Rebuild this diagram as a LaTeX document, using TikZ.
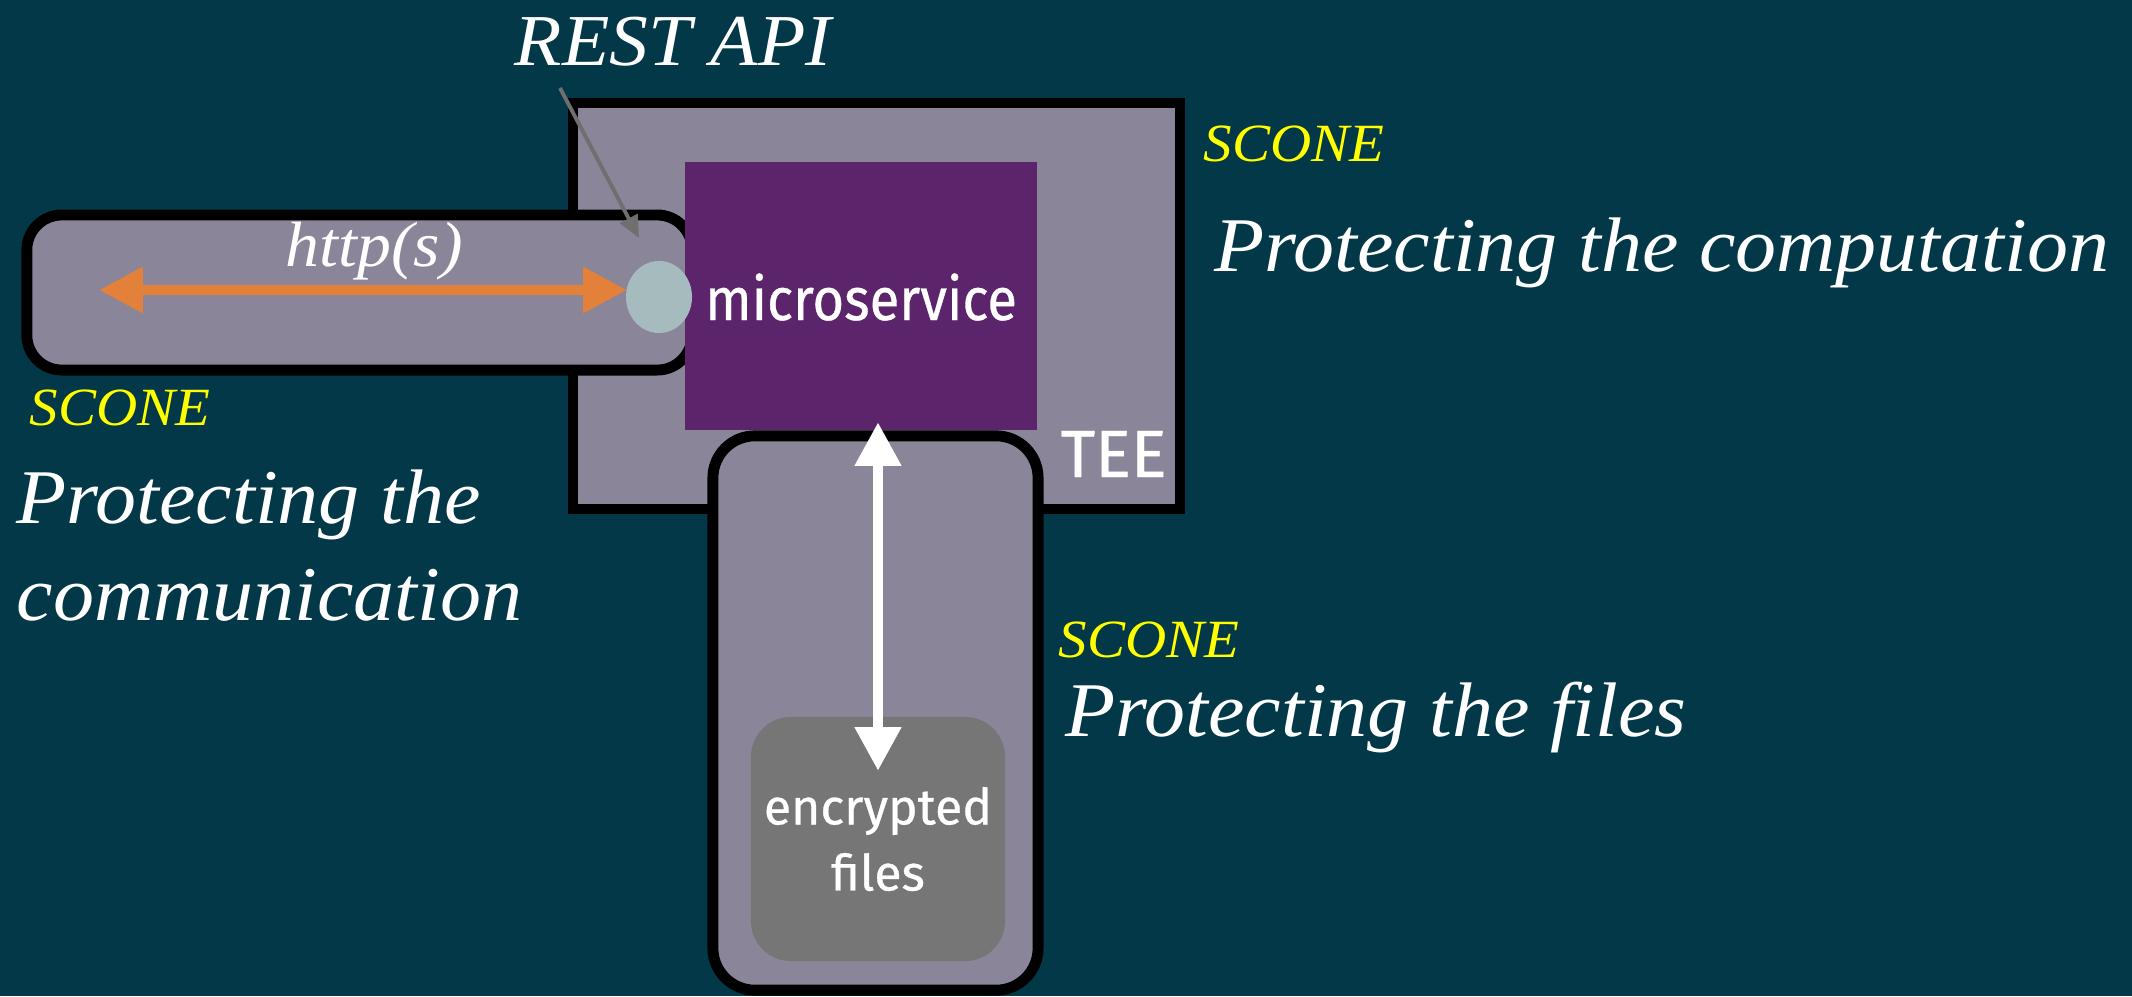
\documentclass[tikz,border=0pt]{standalone}
\usepackage{fontspec}
\setmainfont{Liberation Serif}[FakeStretch=1.06]
\setsansfont{Fira Sans}[FakeBold=0.6]
\usetikzlibrary{arrows.meta,shapes.geometric}
\definecolor{bgc}{HTML}{023848}
\definecolor{boxgray}{HTML}{8A8598}
\definecolor{msviolet}{HTML}{5C256B}
\definecolor{apicol}{HTML}{A6BBBD}
\definecolor{encgray}{HTML}{757675}
\definecolor{arrorange}{HTML}{E3803A}
\definecolor{sconeyellow}{HTML}{FFFF00}
\definecolor{pointergray}{HTML}{6F6F6F}
\tikzset{
  zone/.style={draw=black, fill=boxgray, line width=3.1pt, inner sep=0pt},
  sconelbl/.style={text=sconeyellow, font=\fontsize{15.3pt}{18pt}\selectfont\itshape, anchor=base west, inner sep=0pt},
  protlbl/.style={text=white, font=\fontsize{22pt}{27pt}\selectfont\itshape, anchor=base west, inner sep=0pt},
  sanslbl/.style={text=white, inner sep=0pt},
}
\begin{document}
\begin{tikzpicture}[x=0.01cm,y=-0.01cm]
\fill[bgc] (0,0) rectangle (2132,996);
\useasboundingbox (0,0) rectangle (2132,996);

% TEE box
\node[zone, line width=2.85pt, minimum width=6.07cm, minimum height=4.06cm] (tee) at (876.5,306) {};
% communication box
\node[zone, rounded corners=0.35cm, minimum width=6.65cm, minimum height=1.55cm] (comm) at (359.5,292.5) {};
% microservice
\node[fill=msviolet, inner sep=0pt, minimum width=3.52cm, minimum height=2.68cm] (ms) at (861,296) {};
\node[sanslbl, anchor=base, font=\sffamily\fontsize{17pt}{20pt}\selectfont] (mstext) at (861,320) {\scalebox{0.91}[1]{microservice}};
% REST API endpoint
\node[ellipse, fill=apicol, inner sep=0pt, minimum width=0.66cm, minimum height=0.72cm] (api) at (659,297) {};
% files box
\node[zone, rounded corners=0.42cm, minimum width=3.25cm, minimum height=5.54cm] (files) at (875.5,713) {};
\node[fill=encgray, rounded corners=0.4cm, inner sep=0pt, minimum width=2.54cm, minimum height=2.44cm,
      text=white, align=center, font=\sffamily\fontsize{14.2pt}{18.8pt}\selectfont] (enc) at (878,839) {encrypted\\files};
% TEE label
\node[sanslbl, anchor=base west, font=\sffamily\fontsize{19pt}{22pt}\selectfont] (teelbl) at (1060,477) {TEE};

% arrows
\coordinate (httpL) at (99,290);
\coordinate (httpR) at (627,290);
\draw[arrorange, line width=2.85pt, {Triangle[length=12.5pt,width=12.5pt]}-{Triangle[length=12.5pt,width=12.5pt]}] (httpL) -- (httpR);
\node[text=white, anchor=base west, inner sep=0pt, font=\fontsize{18.2pt}{24pt}\selectfont\itshape] (http) at (285,266) {http(s)};

\coordinate (fa) at (878,422);
\coordinate (fb) at (878,771);
\draw[white, line width=3.1pt, {Triangle[length=12.5pt,width=12.5pt]}-{Triangle[length=12.5pt,width=12.5pt]}] (fa) -- (fb);

\node[text=white, anchor=base west, inner sep=0pt, font=\fontsize{20.8pt}{26pt}\selectfont\itshape] (rest) at (514,65) {REST API};
\coordinate (ps) at (560,88);
\coordinate (pe) at (639,238);
\draw[pointergray, line width=1.1pt, -{Triangle[length=6.3pt,width=5.5pt]}] (ps) -- (pe);

% labels
\node[sconelbl] (s1) at (1203,161) {SCONE};
\node[protlbl] (p1) at (1214,271) {Protecting the computation};
\node[sconelbl] (s2) at (29,425) {SCONE};
\node[protlbl] (p2a) at (16,523) {Protecting the};
\node[protlbl] (p2b) at (16,620) {communication};
\node[sconelbl] (s3) at (1058,657) {SCONE};
\node[protlbl] (p3) at (1065,736) {Protecting the files};
\end{tikzpicture}
\end{document}
